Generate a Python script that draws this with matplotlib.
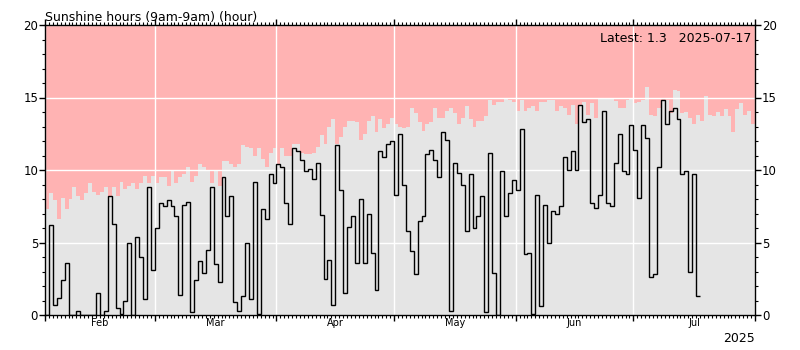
import matplotlib
matplotlib.use('Agg')
import matplotlib.pyplot as plt
import matplotlib.dates as mdates
import matplotlib.transforms as mtransforms
from matplotlib.ticker import MultipleLocator, NullFormatter
import pandas as pd

# ---- data -------------------------------------------------------------
start_date = '2025-02-01'
end_date = '2025-08-01'

# daily maximum possible sunshine (grey area), Feb 1 .. Jul 31
max_sunshine = [
    7.3, 8.4, 7.9, 6.6, 8.1, 7.3, 8.0, 8.8, 8.2, 7.9, 8.4, 9.1, 8.5, 8.3, 8.5, 8.8, 8.2, 8.8, 8.2, 9.2, 8.7, 8.9, 9.1,
    8.7, 9.1, 9.6, 9.1, 9.6, 9.1, 9.5, 9.5, 8.9, 9.9, 9.1, 9.5, 9.7, 10.2, 9.2, 9.6, 10.4, 10.2, 9.9, 9.1, 9.9, 8.9, 10.6,
    10.6, 10.4, 10.2, 10.4, 11.7, 11.6, 11.5, 11.0, 11.5, 10.75, 10.2, 11.2, 11.5, 10.4, 11.5, 11.0, 11.0, 11.8, 11.8, 11.2, 11.1, 11.1, 11.2,
    11.6, 12.4, 11.8, 13.0, 13.5, 11.8, 12.3, 13.0, 13.4, 13.4, 13.3, 12.1, 12.5, 13.4, 13.7, 12.6, 13.5, 12.9, 13.2, 13.6, 13.15, 13.0,
    12.9, 13.0, 14.3, 13.9, 13.3, 12.7, 13.15, 13.3, 14.3, 13.6, 13.6, 14.1, 14.3, 13.9, 13.2, 13.6, 14.4, 13.5, 13.0, 13.4, 13.4, 13.75, 14.8, 14.5,
    14.7, 14.7, 14.9, 14.8, 14.7, 14.1, 14.85, 14.1, 14.3, 14.4, 14.1, 14.7, 14.7, 14.8, 14.8, 14.1, 14.4, 14.25, 13.8, 14.5, 13.2, 14.4,
    14.7, 13.8, 14.6, 13.6, 14.9, 14.9, 14.9, 14.9, 14.75, 14.3, 14.3, 14.85, 15.0, 14.6, 14.7, 14.8, 15.7, 13.8, 13.7, 14.3, 14.8, 14.8,
    13.9, 15.5, 15.45, 13.9, 14.0, 13.6, 13.2, 13.8, 13.4, 15.1, 13.8, 13.7, 14.0, 13.7, 14.2, 13.7, 12.6, 14.2, 14.6, 13.8, 14.1, 13.2,
]

# observed sunshine hours, Feb 1 .. Jul 17
sunshine = [
    0, 6.2, 0.7, 1.2, 2.4, 3.6, 0, 0, 0.3, 0,
    0, 0, 0, 1.5, 0, 0.3, 8.2, 6.3, 0.5, 0.1,
    1.0, 5.0, 0, 5.4, 4.0, 1.1, 8.8, 3.1, 6.0, 7.7,
    7.5, 7.9, 7.5, 6.8, 1.4, 7.6, 7.8, 0.2, 2.4, 3.7,
    2.9, 4.5, 8.8, 3.5, 2.3, 9.5, 6.8, 8.2, 0.9, 0.3,
    1.3, 5.0, 1.1, 9.2, 0.1, 7.3, 6.6, 9.7, 9.1, 10.4,
    10.2, 7.7, 6.3, 11.5, 11.3, 10.7, 9.9, 10.1, 9.4, 10.5,
    6.9, 2.5, 3.8, 0.7, 11.7, 8.6, 1.5, 6.1, 6.8, 3.6,
    8.0, 3.6, 7.0, 4.3, 1.7, 11.3, 10.9, 11.8, 12.0, 8.3,
    12.5, 9.0, 5.8, 4.4, 2.8, 6.5, 6.8, 11.1, 11.4, 10.7,
    9.5, 12.6, 12.1, 0.3, 10.5, 9.8, 9.0, 5.8, 9.7, 6.0,
    6.8, 8.2, 0.2, 11.2, 2.9, 0, 9.9, 6.8, 8.4, 9.3,
    8.6, 12.8, 4.2, 4.3, 0.1, 8.3, 0.6, 7.6, 5.0, 7.2,
    7.0, 7.5, 10.9, 10.0, 11.3, 10.0, 14.5, 13.3, 13.5, 7.7,
    7.4, 8.3, 14.1, 7.7, 7.5, 10.5, 12.5, 9.9, 9.7, 13.1,
    11.4, 8.1, 13.1, 12.2, 2.6, 2.8, 10.2, 14.8, 13.2, 14.1,
    14.3, 13.5, 9.7, 9.9, 3.0, 9.7, 1.3,
]

month_labels = ['Feb', 'Mar', 'Apr', 'May', 'Jun', 'Jul']
year_label = '2025'
title = 'Sunshine hours (9am-9am) (hour)'
latest_text = 'Latest: 1.3   2025-07-17'
y_ticks = [0, 5, 10, 15, 20]

# ---- plot ---------------------------------------------------------------
fig = plt.figure(figsize=(8, 3.5), dpi=100)
ax = fig.add_axes([45/800, 35/350, 710/800, 290/350])
ax.set_facecolor('#ffb3b3')

grey_edges = mdates.date2num(pd.date_range(start_date, periods=len(max_sunshine) + 1, freq='D'))
sun_edges = mdates.date2num(pd.date_range(start_date, periods=len(sunshine) + 1, freq='D'))

ax.stairs(max_sunshine, grey_edges, fill=True, color='#e5e5e5', baseline=0, zorder=1)
ax.stairs(sunshine, sun_edges, baseline=None, color='black', lw=1.0, zorder=3)

ax.set_xlim(mdates.date2num(pd.Timestamp(start_date)), mdates.date2num(pd.Timestamp(end_date)))
ax.set_ylim(0, 20)

ax.xaxis.set_major_locator(mdates.MonthLocator())
ax.xaxis.set_minor_locator(mdates.DayLocator())
ax.xaxis.set_major_formatter(NullFormatter())
ax.yaxis.set_major_locator(plt.FixedLocator(y_ticks))
ax.yaxis.set_minor_locator(MultipleLocator(1))

ax.grid(True, which='major', color='white', lw=1.0)
ax.set_axisbelow(False)
for gl in ax.get_xgridlines() + ax.get_ygridlines():
    gl.set_zorder(2)

ax.tick_params(axis='both', which='both', direction='out', colors='black',
               top=True, right=True, labelright=True, labelleft=True)
ax.tick_params(axis='both', which='major', length=4, width=1, labelsize=8.5, pad=1)
ax.tick_params(axis='both', which='minor', length=2, width=0.8)
for s in ax.spines.values():
    s.set_linewidth(1.0)
    s.set_zorder(4)

# month labels centered in each month
trans = mtransforms.blended_transform_factory(ax.transData, ax.transAxes)
month_starts = pd.date_range(start_date, periods=len(month_labels) + 1, freq='MS')
for lab, a, b in zip(month_labels, month_starts[:-1], month_starts[1:]):
    mid = (mdates.date2num(a) + mdates.date2num(b)) / 2
    ax.text(mid, -0.012, lab, transform=trans, ha='center', va='top', fontsize=7)

ax.text(1.0, -0.06, year_label, transform=ax.transAxes, ha='right', va='top', fontsize=9)
ax.text(0.995, 0.975, latest_text, transform=ax.transAxes, ha='right', va='top', fontsize=9)
ax.set_title(title, loc='left', fontsize=9, pad=3)

fig.savefig('out.png', dpi=100)
